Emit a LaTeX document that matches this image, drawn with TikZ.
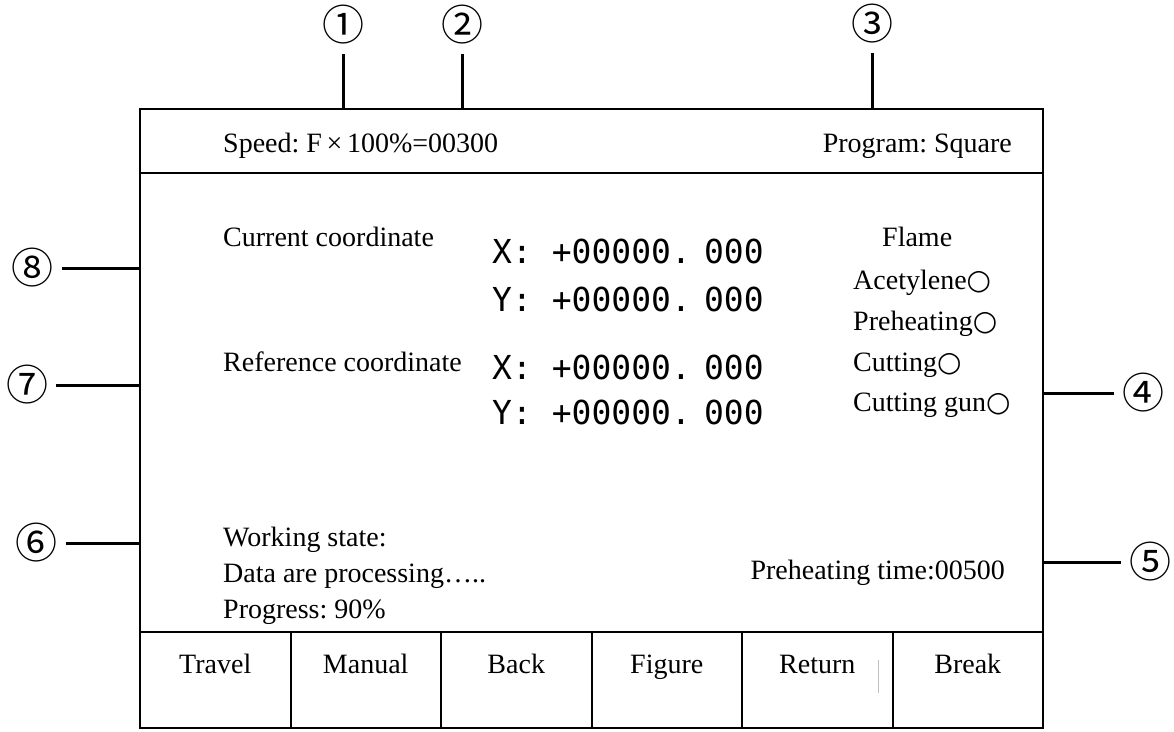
\documentclass[tikz,border=0pt]{standalone}
\usepackage{fontspec}
\setmainfont{Liberation Serif}
\newfontfamily\digitfont{DejaVu Sans Mono}
\newfontfamily\ringfont{DejaVu Sans}
\newfontfamily\circfont{Noto Sans CJK SC}
\usetikzlibrary{positioning, calc}
\frenchspacing

\begin{document}
\begin{tikzpicture}[x=1pt, y=-1pt,
  txt/.style={inner sep=0pt, font=\fontsize{28}{34}\selectfont},
  coord/.style={inner sep=0pt, font=\digitfont\fontsize{33}{38}\selectfont},
  callout/.style={circle, minimum size=58pt, inner sep=0pt, font=\circfont\fontsize{42}{46}\selectfont},
  button/.style={rectangle, draw, line width=2pt, minimum width=150.5pt, minimum height=96pt, inner sep=0pt},
  frame/.style={line width=2pt},
  lead/.style={line width=3pt}
]
  \useasboundingbox (0,0) rectangle (1174,731);

  \draw[frame] (140,109) rectangle (1043,632);
  \draw[frame] (140,173) -- (1043,173);

  \foreach \name [count=\i] in {Travel, Manual, Back, Figure, Return, Break} {
    \node[button] (b\i) at ({140+150.5*(\i-0.5)}, 680) {};
    \node[txt, anchor=base] (t\i) at ($(b\i.north)+(0,42)$) {\name};
  }
  \draw[gray!50, line width=0.8pt] (878,660) -- (878,693);

  \node[txt, anchor=base west] (speed) at (223,152) {Speed: F\,×\,100\%=00300};
  \node[txt, anchor=base east] (prog) at (1012,152) {Program: Square};

  \node[txt, anchor=base west] (cur) at (223,246) {Current coordinate};
  \node[txt, anchor=base west] (ref) at (223,371) {Reference coordinate};
  \node[coord, anchor=base west] (curx) at (492,263) {X: +00000.\hspace{0.4em}000};
  \node[coord, anchor=base west] (cury) at ($(curx.base west)+(0,48)$) {Y: +00000.\hspace{0.4em}000};
  \node[coord, anchor=base west] (refx) at ($(cury.base west)+(0,68)$) {X: +00000.\hspace{0.4em}000};
  \node[coord, anchor=base west] (refy) at ($(refx.base west)+(0,45)$) {Y: +00000.\hspace{0.4em}000};

  \node[txt, anchor=base west] (flame) at (882,246) {Flame};
  \node[txt, anchor=base west] (acet) at (853,289) {Acetylene{\ringfont ○}};
  \node[txt, anchor=base west] (preh) at (853,330) {Preheating{\ringfont ○}};
  \node[txt, anchor=base west] (cutt) at (853,371) {Cutting{\ringfont ○}};
  \node[txt, anchor=base west] (gun) at (853,411) {Cutting gun{\ringfont ○}};

  \node[txt, anchor=base west] (work) at (223,546) {Working state:};
  \node[txt, anchor=base west] (data) at (223,582) {Data are processing…..};
  \node[txt, anchor=base west] (progr) at (223,618) {Progress: 90\%};
  \node[txt, anchor=base east] (ptime) at (1005,579) {Preheating time:00500};

  \coordinate (e1) at (343,109);
  \coordinate (e2) at (462,109);
  \coordinate (e3) at (872,109);
  \coordinate (e4) at (1043,393);
  \coordinate (e5) at (1043,562);
  \coordinate (e6) at (140,543);
  \coordinate (e7) at (140,385);
  \coordinate (e8) at (140,268);

  \node[callout] (c1) at (343,25) {①};
  \node[callout] (c2) at (462,25) {②};
  \node[callout] (c3) at (872,24) {③};
  \node[callout] (c4) at (1143,393) {④};
  \node[callout] (c5) at (1150,562) {⑤};
  \node[callout] (c6) at (37,543) {⑥};
  \node[callout] (c7) at (27,385) {⑦};
  \node[callout] (c8) at (33,268) {⑧};

  \foreach \i in {1,...,8} {
    \draw[lead] (c\i) -- (e\i);
  }
\end{tikzpicture}
\end{document}
